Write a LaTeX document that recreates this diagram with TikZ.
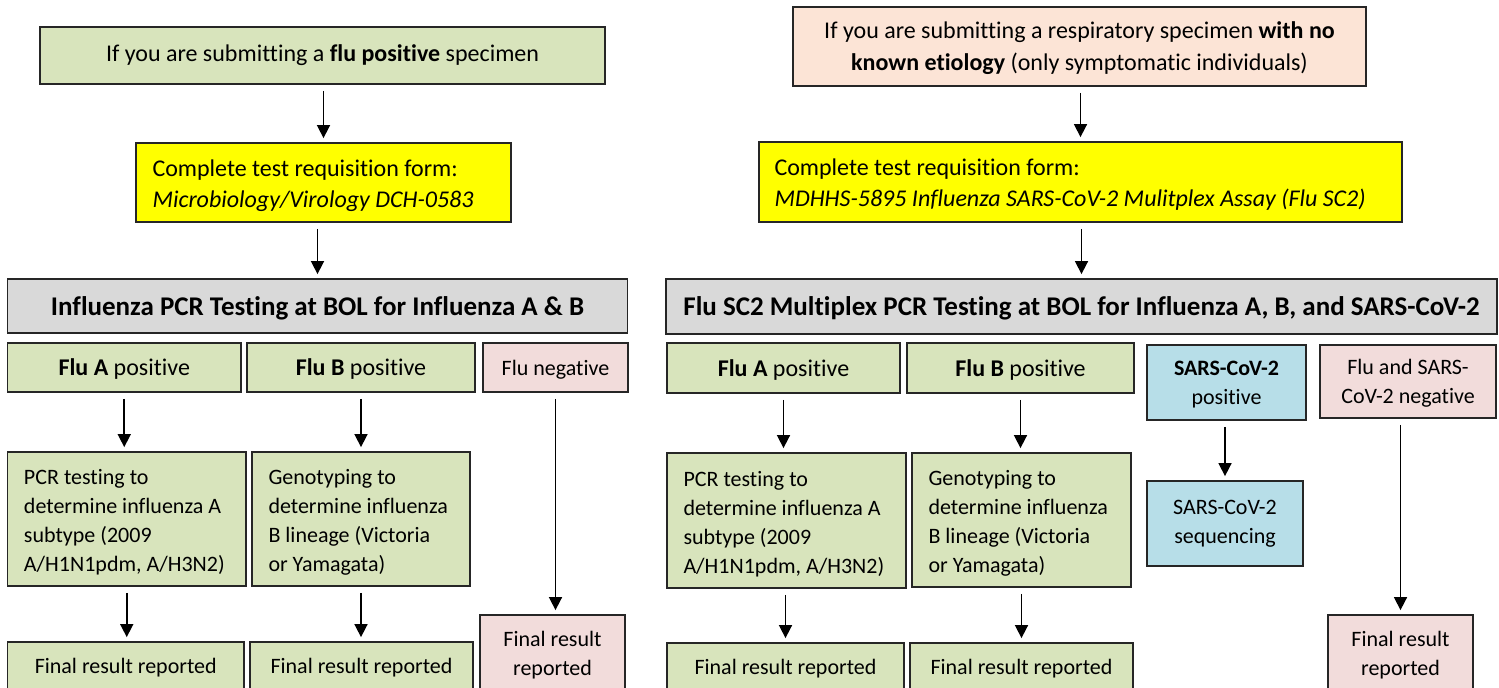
\documentclass[tikz,border=0pt]{standalone}
\usepackage{fontspec}
\setmainfont{Carlito}[Ligatures={NoCommon}]
\usetikzlibrary{arrows.meta}
\definecolor{cgreen}{HTML}{D8E4BC}
\definecolor{cyellow}{HTML}{FFFF00}
\definecolor{cpeach}{HTML}{FCE4D6}
\definecolor{cgray}{HTML}{D9D9D9}
\definecolor{cpink}{HTML}{F2DCDB}
\definecolor{cblue}{HTML}{B7DEE8}
\newcommand\fsA{\fontsize{12}{15.5}\selectfont}
\newcommand\fsB{\fontsize{11}{14.5}\selectfont}
\newcommand\fsH{\fontsize{13.5}{16}\selectfont\bfseries}
\newcommand\mybx[7]{%
  \node[bx,#6,minimum width={(#4-#2)*0.5pt},minimum height={(#5-#3)*0.5pt}] (#1) at ({(#2+#4)/2},{(#3+#5)/2}) {#7};}
\tikzset{
  bx/.style={draw=black!85, line width=0.9pt, inner sep=0pt, align=center, font=\fsB, text=black},
  nd/.style={text depth=0pt},
  txl/.style={anchor=west, align=left, inner sep=0pt, font=\fsB},
  arr/.style={-{Triangle[width=6.5pt,length=6.5pt]}, line width=0.8pt, shorten <=3pt, shorten >=2pt},
}
\begin{document}
\begin{tikzpicture}[x=0.5pt,y=-0.5pt]
\useasboundingbox (0,0) rectangle (1499,687);
\clip (0,0) rectangle (1499,687);
% ---------------- left column ----------------
\mybx{topA}{40}{27}{605}{84}{fill=cgreen,font=\fsA}{If you are submitting a \textbf{flu positive} specimen}
\mybx{reqA}{136}{143}{511}{222}{fill=cyellow}{}
\node[txl,font=\fsA] (reqAt) at ([xshift=8.5pt,yshift=-1.5pt]reqA.west) {Complete test requisition form:\\\textit{Microbiology/Virology DCH-0583}};
\mybx{pcrA}{7.5}{279}{627.5}{333}{fill=cgray,font=\fsH,nd}{Influenza PCR Testing at BOL for Influenza A \& B}
\mybx{flaA}{7.5}{343}{241}{392}{fill=cgreen,font=\fsA,nd}{\textbf{Flu A} positive}
\mybx{flbA}{247}{343}{475}{392}{fill=cgreen,font=\fsA,nd}{\textbf{Flu B} positive}
\mybx{negA}{483}{343}{628}{392}{fill=cpink,nd}{Flu negative}
\mybx{subA}{7.5}{452}{246}{586}{fill=cgreen}{}
\node[txl] (subAt) at ([xshift=8.5pt,yshift=-1.75pt]subA.west) {PCR testing to\\determine influenza A\\subtype (2009\\A/H1N1pdm, A/H3N2)};
\mybx{linA}{252}{452}{470}{586}{fill=cgreen}{}
\node[txl] (linAt) at ([xshift=8.5pt,yshift=-1.75pt]linA.west) {Genotyping to\\determine influenza\\B lineage (Victoria\\or Yamagata)};
\mybx{finAa}{7.5}{642}{244}{694}{fill=cgreen}{Final result reported}
\mybx{finAb}{250}{642}{473}{694}{fill=cgreen}{Final result reported}
\mybx{finAn}{480}{615}{625}{696}{fill=cpink}{Final result\\reported}
\draw[arr] (topA.south -| reqA.north) -- (reqA.north);
\draw[arr] (reqA.south -| pcrA.north) -- (pcrA.north);
\draw[arr] (flaA.south) -- (flaA.south |- subA.north);
\draw[arr] (flbA.south) -- (flbA.south |- linA.north);
\draw[arr] (negA.south) -- (negA.south |- finAn.north);
\draw[arr] (subA.south) -- (subA.south |- finAa.north);
\draw[arr] (linA.south) -- (linA.south |- finAb.north);
% ---------------- right column ----------------
\mybx{topB}{793}{7}{1366}{86}{fill=cpeach,font=\fontsize{12}{16}\selectfont,nd}{If you are submitting a respiratory specimen \textbf{with no}\\\textbf{known etiology} (only symptomatic individuals)}
\mybx{reqB}{759}{142}{1402}{222}{fill=cyellow}{}
\node[txl,font=\fsA] (reqBt) at ([xshift=8pt,yshift=-1.5pt]reqB.west) {Complete test requisition form:\\\textit{MDHHS-5895 Influenza SARS-CoV-2 Mulitplex Assay (Flu SC2)}};
\mybx{pcrB}{666}{279}{1497}{334}{fill=cgray,font=\fsH,nd}{Flu SC2 Multiplex PCR Testing at BOL for Influenza A, B, and SARS-CoV-2}
\mybx{flaB}{667}{343}{900}{393}{fill=cgreen,font=\fsA,nd}{\textbf{Flu A} positive}
\mybx{flbB}{907}{343}{1134}{393}{fill=cgreen,font=\fsA,nd}{\textbf{Flu B} positive}
\mybx{covB}{1147}{345}{1306}{420}{fill=cblue,nd}{\textbf{SARS-CoV-2}\\positive}
\mybx{negB}{1320}{345}{1496}{418}{fill=cpink,nd}{Flu and SARS-\\CoV-2 negative}
\mybx{subB}{667}{453}{906}{588}{fill=cgreen}{}
\node[txl] (subBt) at ([xshift=8.5pt,yshift=-1.75pt]subB.west) {PCR testing to\\determine influenza A\\subtype (2009\\A/H1N1pdm, A/H3N2)};
\mybx{linB}{912}{453}{1131}{587}{fill=cgreen}{}
\node[txl] (linBt) at ([xshift=8.5pt,yshift=-1.75pt]linB.west) {Genotyping to\\determine influenza\\B lineage (Victoria\\or Yamagata)};
\mybx{seqB}{1147}{481}{1303}{566}{fill=cblue}{SARS-CoV-2\\sequencing}
\mybx{finBa}{667}{643}{904}{695}{fill=cgreen}{Final result reported}
\mybx{finBb}{910}{643}{1133}{695}{fill=cgreen}{Final result reported}
\mybx{finBn}{1328}{615}{1473}{696}{fill=cpink}{Final result\\reported}
\draw[arr] (topB.south -| reqB.north) -- (reqB.north);
\draw[arr] (reqB.south -| pcrB.north) -- (pcrB.north);
\draw[arr] (flaB.south) -- (flaB.south |- subB.north);
\draw[arr] (flbB.south) -- (flbB.south |- linB.north);
\draw[arr] (covB.south -| seqB.north) -- (seqB.north);
\draw[arr] (negB.south -| finBn.north) -- (finBn.north);
\draw[arr] (subB.south -| finBa.north) -- (finBa.north);
\draw[arr] (linB.south) -- (linB.south |- finBb.north);
\end{tikzpicture}
\end{document}
